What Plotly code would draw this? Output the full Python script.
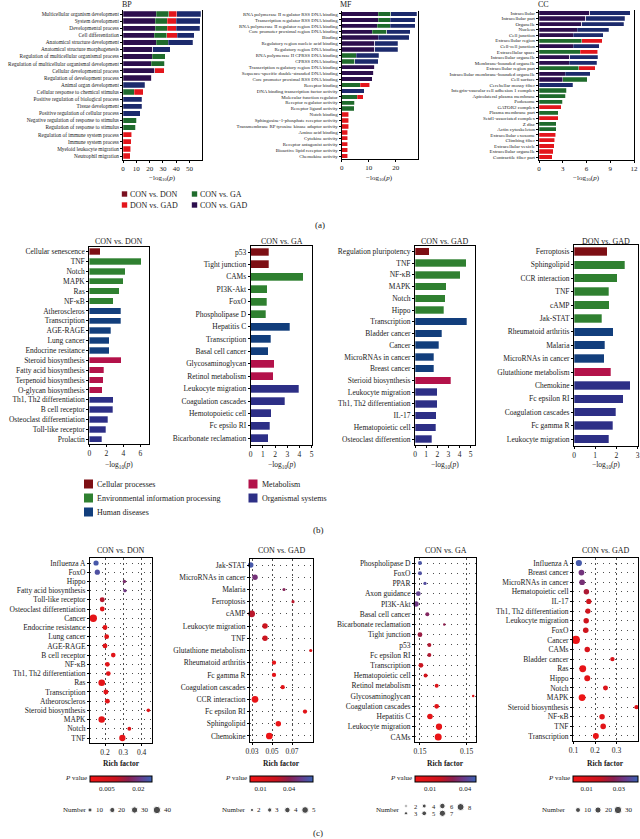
import plotly.graph_objects as go

W, H = 640, 839
FONT = "Liberation Serif"
INK = "#1a1a1a"

# ================= (a) GO enrichment, -log10(p) =================
bp_terms = ["Multicellular organism development", "System development", "Developmental process",
            "Cell differentiation", "Anatomical structure development", "Anatomical structure morphogenesis",
            "Regulation of multicellular organismal process", "Regulation of multicellular organismal development",
            "Cellular developmental process", "Regulation of development process", "Animal organ development",
            "Cellular response to chemical stimulus", "Positive regulation of biological process",
            "Tissue development", "Positive regulation of cellular process",
            "Negative regulation of response to stimulus", "Regulation of response to stimulus",
            "Regulation of immune system process", "Immune system process", "Myeloid leukocyte migration",
            "Neutrophil migration"]
bp_con_gad = [25, 24.3, 24.3, 23.5, 25, 22.3, 21.8, 21.3, 23.8, 21.5, 0, 0, 0, 0, 0, 0, 0, 0, 0, 0, 0]
bp_con_ga = [9.3, 9, 9, 9.3, 9, 0, 10, 10, 0, 0, 0, 8.3, 0, 0, 0, 10.3, 9.5, 0, 0, 0, 0]
bp_don_gad = [6, 6.8, 6.8, 8, 0, 0, 0, 0, 7.3, 0, 0, 7, 0, 0, 0, 0, 0, 6.5, 6.3, 6, 5.3]
bp_con_don = [18, 18, 17.5, 12.8, 18.3, 13.3, 0, 0, 0, 0, 16.5, 0, 14, 14, 12.8, 0, 0, 0, 0, 0, 0]

mf_terms = ["RNA polymerase II regulator RSS DNA binding", "Transcription regulator RSS DNA binding",
            "RNA polymerase II regulator region DNA binding", "Core promoter proximal region DNA binding",
            "Binding", "Regulatory region nucleic acid binding", "Regulatory region DNA binding",
            "RNA polymerase II CPRSS DNA binding", "CPRSS DNA binding",
            "Transcription regulatory region DNA binding", "Sequence-specific double-stranded DNA binding",
            "Core promoter proximal RSS DNA binding", "Receptor binding",
            "DNA binding transcription factor activity", "Molecular function regulator",
            "Receptor regulator activity", "Receptor ligand activity", "Notch binding",
            "Sphingosine-1-phosphate receptor activity", "Transmembrane RP tyrosine kinase adaptor activity",
            "Amino acid binding", "Cytokine activity", "Receptor antagonist activity",
            "Bioactive lipid receptor activity", "Chemokine activity"]
mf_con_gad = [13.6, 13.6, 13.2, 11.4, 13.6, 12.3, 12.3, 0, 0, 12.3, 11.9, 11.4, 0, 0, 0, 0, 0, 0, 0, 0, 0, 0, 0, 0, 0]
mf_con_ga = [4.6, 4.3, 4.7, 5.3, 0, 0, 0, 5.3, 4.9, 0, 0, 0, 6.8, 0, 5.7, 4.9, 4.7, 0, 0, 0, 0, 0, 0, 0, 0]
mf_don_gad = [0, 0, 0, 0, 0, 0, 0, 0, 0, 0, 0, 0, 3.6, 0, 2.3, 0, 0, 2.7, 2.7, 2.6, 2.2, 2.2, 2.2, 2.2, 2.2]
mf_con_don = [9.6, 9.3, 9.3, 8.6, 11.5, 8.4, 8.4, 8.5, 8.6, 0, 0, 0, 0, 8.4, 0, 0, 0, 0, 0, 0, 0, 0, 0, 0, 0]

cc_terms = ["Intracellular", "Intracellular part", "Organelle", "Nucleus", "Cell junction",
            "Extracellular region", "Cell-cell junction", "Extracellular space", "Intracellular organelle",
            "Membrane-bounded organelle", "Extracellular region part", "Intracellular membrane-bounded organelle",
            "Cell surface", "Cerebellar mossy fiber", "Integrin-vascular cell adhesion 1 complex",
            "Apicolateral plasma membrane", "Podosome", "GATOR2 complex", "Plasma membrane part",
            "Setd1-associated complex", "Z disc", "Actin cytoskeleton", "Extracellular exosome",
            "Climbing fiber", "Extracellular vesicle", "Extracellular organelle", "Contractile fiber part"]
cc_con_gad = [6.4, 5.9, 5.4, 4.8, 4.3, 0, 4.3, 0, 3.9, 3.8, 0, 3.3, 3.0, 0, 0, 0, 0, 0, 0, 0, 0, 0, 0, 0, 0, 0, 0]
cc_con_ga = [0, 0, 0, 0, 0, 5.4, 0, 5.2, 0, 0, 5.0, 0, 3.1, 0, 3.5, 3.4, 3.0, 0, 2.4, 0, 2.2, 2.2, 0, 0, 0, 0, 0]
cc_don_gad = [0, 0, 0, 0, 0, 2.6, 0, 2.2, 0, 0, 2.1, 0, 0, 0, 0, 0, 0, 2.8, 0, 2.4, 0, 0, 2.1, 2.0, 1.9, 1.8, 1.7]
cc_con_don = [5.1, 4.9, 5.3, 4.0, 3.8, 0, 3.3, 0, 3.5, 3.5, 0, 3.2, 0, 4.25, 0, 0, 0, 0, 0, 0, 0, 0, 0, 0, 0, 0, 0]

a_series_names = ["CON vs. GAD", "CON vs. GA", "DON vs. GAD", "CON vs. DON"]
a_legend_names = ["CON vs. DON", "DON vs. GAD", "CON vs. GA", "CON vs. GAD"]

# ================= (b) KEGG enrichment, -log10(p) =================
b1_terms = ["Cellular senescence", "TNF", "Notch", "MAPK", "Ras", "NF-κB", "Atheroscleros", "Transcription",
            "AGE-RAGE", "Lung cancer", "Endocrine resitance", "Steroid biosynthesis", "Fatty acid biosynthesis",
            "Terpenoid biosynthesis", "O-glycan biosynthesis", "Th1, Th2 differentiation", "B cell receptor",
            "Osteoclast differentiation", "Toll-like receptor", "Prolactin"]
b1_vals = [1.3, 6.1, 4.2, 4.0, 3.5, 2.8, 3.7, 3.7, 2.5, 2.35, 2.35, 3.75, 1.7, 1.65, 1.5, 2.8, 2.75, 2.15, 1.95, 1.45]
b1_class = ["C", "E", "E", "E", "E", "E", "H", "H", "H", "H", "H", "M", "M", "M", "M", "O", "O", "O", "O", "O"]

b2_terms = ["p53", "Tight junction", "CAMs", "PI3K-Akt", "FoxO", "Phospholipase D", "Hepatitis C",
            "Transcription", "Basal cell cancer", "Glycosaminoglycan", "Retinol metabolism",
            "Leukocyte migration", "Coagulation cascades", "Hemotopoietic cell", "Fc epsilo RI",
            "Bicarbonate reclamation"]
b2_vals = [1.5, 1.5, 4.3, 1.35, 1.3, 1.25, 3.2, 1.65, 1.45, 1.95, 1.85, 3.95, 2.8, 1.7, 1.55, 1.45]
b2_class = ["C", "C", "E", "E", "E", "E", "H", "H", "H", "M", "M", "O", "O", "O", "O", "O"]

b3_terms = ["Regulation pluripotency", "TNF", "NF-κB", "MAPK", "Notch", "Hippo", "Transcription",
            "Bladder cancer", "Cancer", "MicroRNAs in cancer", "Breast cancer", "Sterioid biosynthesis",
            "Leukocyte migration", "Th1, Th2 differentiation", "IL-17", "Hematopoietic cell",
            "Osteoclast differention"]
b3_vals = [1.3, 4.6, 4.05, 2.8, 2.7, 2.6, 4.67, 2.4, 2.15, 1.7, 1.7, 3.2, 2.0, 2.0, 1.9, 1.85, 1.5]
b3_class = ["C", "E", "E", "E", "E", "E", "H", "H", "H", "H", "H", "M", "O", "O", "O", "O", "O"]

b4_terms = ["Ferroptosis", "Sphingolipid", "CCR interaction", "TNF", "cAMP", "Jak-STAT",
            "Rheumatoid arthritis", "Malaria", "MicroRNAs in cancer", "Glutathione metabolism", "Chemokine",
            "Fc epsilon RI", "Coagulation cascades", "Fc gamma R", "Leukocyte migration"]
b4_vals = [1.58, 2.4, 2.05, 1.63, 1.67, 1.3, 1.86, 1.46, 1.43, 1.73, 2.65, 2.33, 1.98, 1.83, 1.65]
b4_class = ["C", "E", "E", "E", "E", "E", "H", "H", "H", "M", "O", "O", "O", "O", "O"]

b_class_names = {"C": "Cellular processes", "E": "Environmental information processing",
                 "H": "Human diseases", "M": "Metabolism", "O": "Organismal systems"}

# ================= (c) KEGG bubble plots =================
c1_terms = ["Influenza A", "FoxO", "Hippo", "Fatty acid biosynthesis", "Toll-like receptor",
            "Osteoclast differentiation", "Cancer", "Endocrine resistance", "Lung cancer", "AGE-RAGE",
            "B cell receptor", "NF-κB", "Th1, Th2 differentiation", "Ras", "Transcription", "Atheoroscleros",
            "Steroid biosynthesis", "MAPK", "Notch", "TNF"]
c1_rich = [0.151, 0.158, 0.306, 0.309, 0.185, 0.185, 0.136, 0.200, 0.209, 0.200, 0.245, 0.213, 0.218, 0.182,
           0.205, 0.213, 0.437, 0.182, 0.333, 0.295]
c1_num = [20, 20, 4, 3, 18, 17, 40, 17, 16, 17, 15, 16, 16, 33, 18, 17, 5, 32, 8, 30]
c1_p = [0.025, 0.024, 0.018, 0.020, 0.011, 0.002, 0.001, 0.002, 0.002, 0.002, 0.002, 0.002, 0.002, 0.001,
        0.002, 0.002, 0.003, 0.001, 0.003, 0.001]

c2_terms = ["Jak-STAT", "MicroRNAs in cancer", "Malaria", "Ferroptosis", "cAMP", "Leukocyte migration", "TNF",
            "Glutathione metabolism", "Rheumatoid arthritis", "Fc gamma R", "Coagulation cascades",
            "CCR interaction", "Fc epsilon RI", "Sphingolipid", "Chemokine"]
c2_rich = [0.0287, 0.033, 0.062, 0.071, 0.0297, 0.043, 0.043, 0.0887, 0.052, 0.052, 0.0607, 0.033, 0.083,
           0.0563, 0.0473]
c2_num = [4, 4, 2, 2, 5, 4, 4, 2, 3, 3, 3, 5, 3, 4, 5]
c2_p = [0.062, 0.048, 0.042, 0.030, 0.030, 0.025, 0.025, 0.012, 0.008, 0.008, 0.010, 0.006, 0.010, 0.005, 0.003]

c3_terms = ["Phospholipase D", "FoxO", "PPAR", "Axon guidance", "PI3K-Akt", "Basal cell cancer",
            "Bicarbonate reclamation", "Tight junction", "p53", "Fc epsilon RI", "Transcription",
            "Hematopoietic cell", "Retinol metabolism", "Glycosaminoglycan", "Coagulation cascades",
            "Hepatitis C", "Leukocyte migration", "CAMs"]
c3_rich = [0.100, 0.100, 0.1107, 0.0964, 0.0914, 0.1157, 0.152, 0.100, 0.120, 0.120, 0.102, 0.112, 0.1357,
           0.214, 0.1357, 0.1214, 0.1407, 0.139]
c3_num = [4, 4, 3, 5, 6, 4, 2, 5, 4, 4, 5, 4, 4, 2, 5, 6, 7, 8]
c3_p = [0.046, 0.045, 0.044, 0.041, 0.038, 0.032, 0.029, 0.027, 0.023, 0.023, 0.019, 0.014, 0.009, 0.007,
        0.006, 0.004, 0.003, 0.002]

c4_terms = ["Influenza A", "Breast cancer", "MicroRNAs in cancer", "Hematopoietic cell", "IL-17",
            "Th1, Th2 differentiation", "Leukocyte migration", "FoxO", "Cancer", "CAMs", "Bladder cancer", "Ras",
            "Hippo", "Notch", "MAPK", "Steroid biosynthesis", "NF-κB", "TNF", "Transcription"]
c4_rich = [0.125, 0.137, 0.140, 0.160, 0.171, 0.167, 0.159, 0.157, 0.111, 0.164, 0.281, 0.143, 0.164, 0.249,
           0.140, 0.393, 0.233, 0.238, 0.204]
c4_num = [20, 16, 16, 14, 12, 13, 14, 15, 35, 14, 6, 25, 18, 10, 25, 5, 14, 15, 18]
c4_p = [0.040, 0.032, 0.031, 0.022, 0.016, 0.015, 0.016, 0.016, 0.004, 0.012, 0.012, 0.006, 0.008, 0.010,
        0.003, 0.010, 0.008, 0.008, 0.005]

c_legend_numbers = [[10, 20, 30, 40], [2, 3, 4, 5], [2, 3, 4, 5, 6, 7, 8], [10, 20, 30]]

# ================= styling =================
A_COLORS = {"CON vs. GAD": "#2c0f4d", "CON vs. GA": "#1f6b2c", "DON vs. GAD": "#e3161c", "CON vs. DON": "#1c2a6c"}
A_LEGEND_COLORS = {"CON vs. DON": "#7a1020", "DON vs. GAD": "#e3161c", "CON vs. GA": "#1f6b2c",
                   "CON vs. GAD": "#2c0f4d"}
B_COLORS = {"C": "#7d0f14", "E": "#2f8030", "H": "#123e7c", "M": "#b3124a", "O": "#2d2f86"}
CSCALE = [[0, "#f21414"], [0.42, "#c8141f"], [0.62, "#8a1f4f"], [0.8, "#6a3a8a"], [1, "#3b62b3"]]


def fx(x):
    return x / W


def fy(y):
    return 1 - y / H


layout = dict(width=W, height=H, template="none", autosize=False,
              margin=dict(l=0, r=0, t=0, b=0, pad=0, autoexpand=False),
              paper_bgcolor="white", plot_bgcolor="rgba(0,0,0,0)",
              font=dict(family=FONT, color=INK), showlegend=False, barmode="stack")
annotations, shapes, traces = [], [], []


def text(x, y, s, size, anchor="center"):
    annotations.append(dict(x=x, y=y, xref="x13", yref="y13", text=s, showarrow=False,
                            font=dict(size=size, family=FONT, color=INK), xanchor=anchor, yanchor="middle",
                            borderpad=0))


def axes(n, x0, x1, y0, y1, xr, cats, ytick_size, xtick_size, tickvals, ticktext=None,
         mirror_x=True, grid=False):
    s = "" if n == 1 else str(n)
    ax = dict(domain=[fx(x0), fx(x1)], range=xr, anchor="y" + s, automargin=False, showline=True,
              linecolor="black", linewidth=1, mirror=mirror_x, ticks="outside", ticklen=2, tickcolor="black",
              tickmode="array", tickvals=tickvals,
              ticktext=ticktext if ticktext else [str(v) for v in tickvals],
              tickfont=dict(size=xtick_size, family=FONT, color=INK), zeroline=False, fixedrange=True,
              showgrid=grid)
    ay = dict(domain=[fy(y1), fy(y0)], range=[len(cats) - 0.5, -0.5], type="category",
              categoryorder="array", categoryarray=cats, anchor="x" + s, automargin=False, showline=True,
              linecolor="black", linewidth=1, mirror=True, ticks="outside", ticklen=2, tickcolor="black",
              tickmode="array", tickvals=cats, ticktext=cats,
              tickfont=dict(size=ytick_size, family=FONT, color=INK), zeroline=False, fixedrange=True,
              showgrid=grid)
    if grid:
        ax.update(gridcolor="#222", gridwidth=0.8, griddash="2px,3px")
        ay.update(gridcolor="#222", gridwidth=0.8, griddash="1px,5px")
    layout["xaxis" + s] = ax
    layout["yaxis" + s] = ay
    return "x" + s, "y" + s


# ---------- (a) ----------
a_panels = [
    ("BP", bp_terms, [bp_con_gad, bp_con_ga, bp_don_gad, bp_con_don], 123, 202, 10.45, 159.55, [0, 59.3],
     [0, 10, 20, 30, 40, 50], 5.3),
    ("MF", mf_terms, [mf_con_gad, mf_con_ga, mf_don_gad, mf_con_don], 341.7, 417.7, 11.0, 159.0, [0, 28.15],
     [0, 10, 20], 4.9),
    ("CC", cc_terms, [cc_con_gad, cc_con_ga, cc_don_gad, cc_con_don], 539, 634, 10.2, 159.8, [0, 12],
     [0, 3, 6, 9, 12], 5.0),
]
for i, (title, terms, series, x0, x1, y0, y1, xr, tv, fs) in enumerate(a_panels):
    xa, ya = axes(i + 1, x0, x1, y0, y1, xr, terms, fs, 7, tv, mirror_x=False)
    for name, vals in zip(a_series_names, series):
        traces.append(go.Bar(y=terms, x=vals, orientation="h", width=0.74, xaxis=xa, yaxis=ya,
                             marker=dict(color=A_COLORS[name], line=dict(color="rgba(255,255,255,0.6)", width=0.4)),
                             name=name, hoverinfo="skip"))
    text(x0 + 4, 4, title, 8)
    text((x0 + x1) / 2, 178, "−log<sub>10</sub>(<i>p</i>)", 7)

for k, name in enumerate(a_legend_names):
    cx = 124.5 + (k // 2) * 70
    cy = 194 + (k % 2) * 11
    shapes.append(dict(type="rect", xref="x13", yref="y13", x0=cx - 2.7, x1=cx + 2.7, y0=cy - 2.7, y1=cy + 2.7,
                       fillcolor=A_LEGEND_COLORS[name], line=dict(width=0)))
    text(cx + 4, cy, name, 8, "left")
text(320, 225, "(a)", 9)

# ---------- (b) ----------
b_panels = [
    ("CON vs. DON", b1_terms, b1_vals, b1_class, 89.3, 149.3, 246.7, 444.2, [0, 7.05], [0, 2, 4, 6]),
    ("CON vs. GA", b2_terms, b2_vals, b2_class, 250.7, 312.3, 245.8, 444.5, [0, 5.05], [0, 1, 2, 3, 4, 5]),
    ("CON vs. GAD", b3_terms, b3_vals, b3_class, 415, 475, 245.5, 444.9, [0, 5.39], [0, 1, 2, 3, 4, 5]),
    ("DON vs. GAD", b4_terms, b4_vals, b4_class, 574, 638, 244.7, 445.7, [0, 3.02], [0, 1, 2, 3]),
]
for i, (title, terms, vals, cls, x0, x1, y0, y1, xr, tv) in enumerate(b_panels):
    xa, ya = axes(4 + i, x0, x1, y0, y1, xr, terms, 7.5, 7.5, tv)
    traces.append(go.Bar(y=terms, x=vals, orientation="h", width=0.64, xaxis=xa, yaxis=ya,
                         marker=dict(color=[B_COLORS[c] for c in cls],
                                     line=dict(color="rgba(255,255,255,0.5)", width=0.6)),
                         hoverinfo="skip"))
    text((x0 + x1) / 2, 241, title, 8)
    text((x0 + x1) / 2, 465, "−log<sub>10</sub>(<i>p</i>)", 7.5)

for k, key in enumerate(["C", "E", "H", "M", "O"]):
    cx = 88.5 if k < 3 else 253
    cy = 484 + (k % 3) * 14 if k < 3 else 484 + (k - 3) * 14
    shapes.append(dict(type="rect", xref="x13", yref="y13", x0=cx - 4.5, x1=cx + 4.5, y0=cy - 4.5, y1=cy + 4.5,
                       fillcolor=B_COLORS[key], line=dict(width=0)))
    text(cx + 7.5, cy, b_class_names[key], 8, "left")
text(318, 530, "(b)", 9)

# ---------- (c) ----------
size_scales = [lambda n: 3 + 0.11 * n, lambda n: 0.7 + 1.2 * n, lambda n: 1 + 0.75 * n,
               lambda n: 3.7 + 0.125 * n]
c_panels = [
    ("CON vs. DON", c1_terms, c1_rich, c1_num, c1_p, 90, 152, 558.4, 742.6, [0.118, 0.457],
     [0.2, 0.3, 0.4], ["0.2", "0.3", "0.4"], [-0.003, 0.0265], [0.005, 0.02], ["0.005", "0.02"]),
    ("CON vs. GAD", c2_terms, c2_rich, c2_num, c2_p, 250, 313, 558.9, 742.1, [0.028, 0.091],
     [0.03, 0.05, 0.07], ["0.03", "0.05", "0.07"], [-0.0012, 0.0652], [0.01, 0.04], ["0.01", "0.04"]),
    ("CON vs. GA", c3_terms, c3_rich, c3_num, c3_p, 415, 476, 557.9, 742.1, [0.0893, 0.22],
     [0.1, 0.2], ["0.15", "0.15"], [-0.0029, 0.0494], [0.01, 0.04], ["0.01", "0.04"]),
    ("CON vs. GAD", c4_terms, c4_rich, c4_num, c4_p, 573, 638, 558.2, 740.8, [0.0977, 0.40],
     [0.1, 0.2, 0.3], ["0.1", "0.2", "0.3"], [0.0015, 0.0418], [0.01, 0.03], ["0.01", "0.03"]),
]
for i, (title, terms, rich, num, pv, x0, x1, y0, y1, xr, tv, tt, crange, ctv, ctt) in enumerate(c_panels):
    xa, ya = axes(8 + i, x0, x1, y0, y1, xr, terms, 7.5, 7.5, tv, tt, grid=True)
    ca = "coloraxis" if i == 0 else "coloraxis%d" % (i + 1)
    scale = size_scales[i]
    traces.append(go.Scatter(x=rich, y=terms, mode="markers", xaxis=xa, yaxis=ya, cliponaxis=False,
                             marker=dict(size=[scale(n) for n in num], color=pv, coloraxis=ca, opacity=1,
                                         line=dict(width=0)),
                             hoverinfo="skip"))
    layout[ca] = dict(colorscale=CSCALE, cmin=crange[0], cmax=crange[1],
                      colorbar=dict(orientation="h", x=fx(x0), xanchor="left", y=fy(775.5), yanchor="top",
                                    len=(x1 - x0) / W, lenmode="fraction", thickness=5.5, thicknessmode="pixels",
                                    outlinewidth=1, outlinecolor="black", tickvals=ctv, ticktext=ctt,
                                    ticks="", tickfont=dict(size=7, family=FONT, color=INK),
                                    xpad=0, ypad=0, title=dict(text="")))
    text((x0 + x1) / 2, 550, title, 8)
    text((x0 + x1) / 2, 763, "<b>Rich factor</b>", 7.5)
    text(x0 - 2, 778, "<i>P</i> value", 7, "right")

# Number legends (bubble size keys)
num_legend_layout = [
    # (label_right_x, first_circle_x, step_x, rows)
    (88, 90, 22.3, 1),
    (247, 252, 17.7, 1),
    (401, 406, 18.2, 2),
    (567, 578, 20, 1),
]
for i, nums in enumerate(c_legend_numbers):
    lab_x, cx0, step, rows = num_legend_layout[i]
    scale = size_scales[i]
    xs, ys, ss = [], [], []
    if rows == 1:
        for k, n in enumerate(nums):
            cx = cx0 + k * step
            xs.append(cx); ys.append(810); ss.append(scale(n))
            text(cx + scale(n) / 2 + 2.5, 810, str(n), 7, "left")
        text(lab_x, 810, "Number", 7, "right")
    else:
        for k, n in enumerate(nums):
            col = k // 2
            row = k % 2
            cx = cx0 + col * step
            cy = 806 + row * 7.3
            if k == len(nums) - 1 and len(nums) % 2 == 1:
                cy = 807
            xs.append(cx); ys.append(cy); ss.append(scale(n))
            text(cx + 6.5, cy, str(n), 6.5, "left")
        text(lab_x, 810, "Number", 7, "right")
    traces.append(go.Scatter(x=xs, y=ys, mode="markers", xaxis="x13", yaxis="y13", cliponaxis=False,
                             marker=dict(size=ss, color="black"), hoverinfo="skip"))
text(318, 833, "(c)", 9)

# overlay pixel axes for legends and labels
layout["xaxis13"] = dict(domain=[0, 1], range=[0, W], visible=False, anchor="y13", fixedrange=True,
                         automargin=False)
layout["yaxis13"] = dict(domain=[0, 1], range=[H, 0], visible=False, anchor="x13", fixedrange=True,
                         automargin=False)
layout["annotations"] = annotations
layout["shapes"] = shapes

fig = go.Figure(data=traces, layout=layout)
fig.write_html("out.html", config={"displayModeBar": False, "staticPlot": True},
               post_script="document.body.style.margin='0px';document.body.style.overflow='hidden';")
